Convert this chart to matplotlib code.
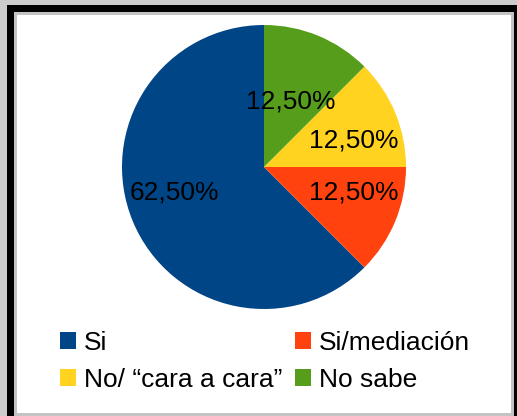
import matplotlib
matplotlib.use("Agg")
import matplotlib.pyplot as plt
from matplotlib.patches import Rectangle, Patch

plt.rcParams["font.family"] = ["Liberation Sans", "DejaVu Sans"]

# ---- data
labels = ["Si", "Si/mediación", "No/ \u201ccara a cara\u201d", "No sabe"]
shares = [62.5, 12.5, 12.5, 12.5]
colors = ["#004586", "#ff420e", "#ffd320", "#579d1c"]

W, H = 517, 416
fig = plt.figure(figsize=(W / 100, H / 100), dpi=100, facecolor="#cccccc")


def px_rect(x0, y0, x1, y1, color):
    # pixel box (top-left origin) -> figure fraction
    fig.add_artist(Rectangle((x0 / W, 1 - y1 / H), (x1 - x0) / W, (y1 - y0) / H,
                             transform=fig.transFigure, facecolor=color,
                             edgecolor="none", zorder=0))


# frame: black outer border, thin grey rule, white chart area
px_rect(7, 5, W + 20, H + 20, "black")
px_rect(14, 12, 514, H + 20, "#c3c3c3")
px_rect(17, 15, 511, 413, "white")

# ---- pie
cx, cy, r = 264, 167, 142
ax = fig.add_axes([(cx - r) / W, 1 - (cy + r) / H, 2 * r / W, 2 * r / H])
wedges, _, autotexts = ax.pie(
    shares, colors=colors, startangle=90, counterclock=True,
    autopct=lambda p: f"{p:.2f}%".replace(".", ","), pctdistance=0.65,
    wedgeprops=dict(linewidth=0),
    textprops=dict(fontsize=19, color="black"),
)
ax.set_xlim(-1, 1)
ax.set_ylim(-1, 1)
ax.set_aspect("equal")
ax.set_zorder(2)

# label placement as LibreOffice puts them (fraction of radius)
label_xy = [(-0.63, -0.18), (0.63, -0.18), (0.63, 0.19), (0.19, 0.46)]
for t, (x, y) in zip(autotexts, label_xy):
    t.set_position((x, y))
    t.set_ha("center")
    t.set_va("center")

# ---- legend (filled row by row, two columns)
handles = [Patch(facecolor=c, edgecolor="none") for c in colors]
order = [0, 2, 1, 3]
fig.legend([handles[i] for i in order], [labels[i] for i in order],
           loc="upper left", bbox_to_anchor=(60 / W, 1 - 331 / H), ncol=2,
           frameon=False, fontsize=19, handlelength=0.62, handleheight=0.62,
           handletextpad=0.3, columnspacing=0.46, labelspacing=0.5,
           borderpad=0, borderaxespad=0)

fig.savefig("out.png", dpi=100, facecolor=fig.get_facecolor())
